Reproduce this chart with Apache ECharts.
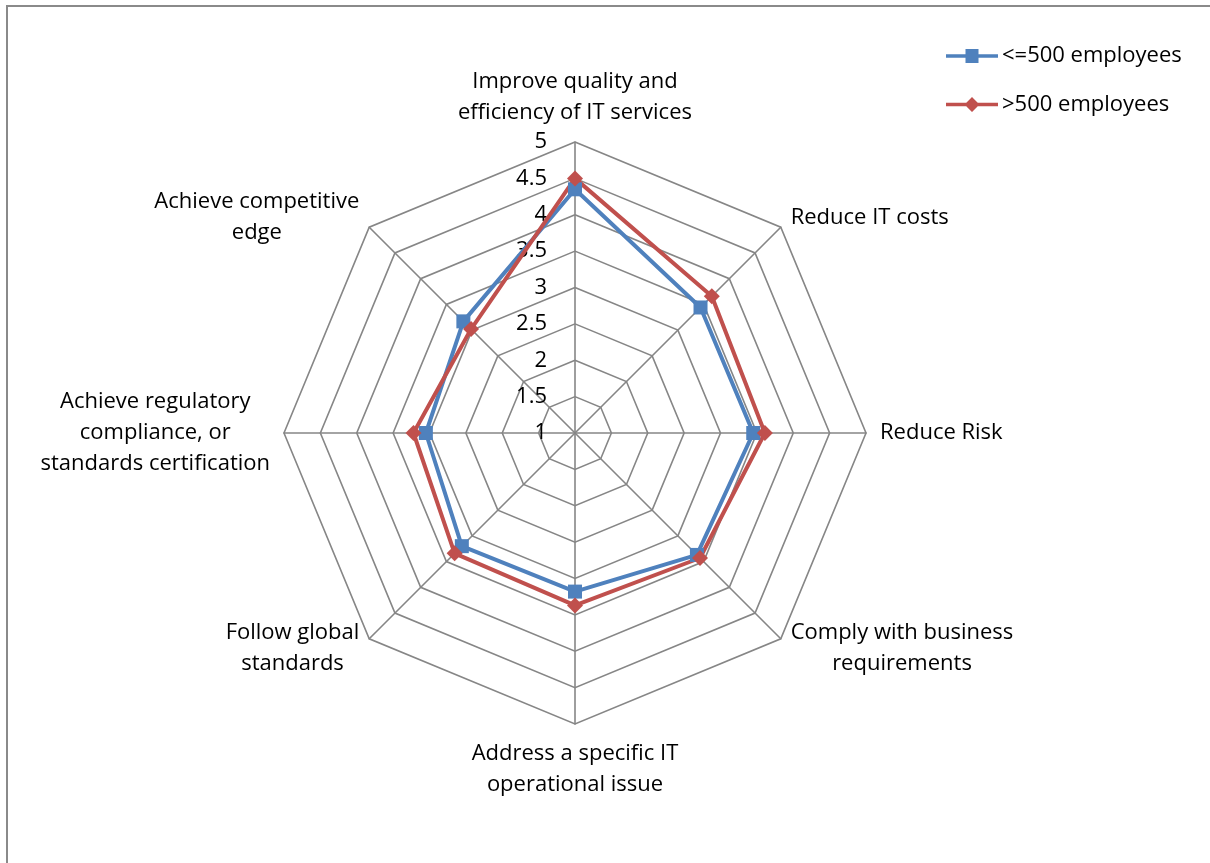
<!DOCTYPE html>
<html>
<head>
<meta charset="utf-8">
<script src="https://cdn.jsdelivr.net/npm/echarts@6/dist/echarts.min.js"></script>
<style>
  html, body { margin: 0; padding: 0; background: #fff; }
  #chart { position: absolute; left: 0; top: 0; width: 1210px; height: 863px; }
  #frame { position: absolute; left: 6px; top: 5px; width: 1300px; height: 1000px;
           border-top: 2px solid #8a8a8a; border-left: 2px solid #8a8a8a; pointer-events: none; }
</style>
</head>
<body>
<div id="chart"></div>
<div id="frame"></div>
<script>
// Spoke labels, listed clockwise from the top
const categories = [
  'Improve quality and\nefficiency of IT services',
  'Reduce IT costs',
  'Reduce Risk',
  'Comply with business\nrequirements',
  'Address a specific IT\noperational issue',
  'Follow global\nstandards',
  'Achieve regulatory\ncompliance, or\nstandards certification',
  'Achieve competitive\nedge'
];
const seriesNames = ['<=500 employees', '>500 employees'];
const smallOrgs = [4.35, 3.44, 3.45, 3.37, 3.18, 3.20, 3.05, 3.17];
const largeOrgs = [4.50, 3.66, 3.61, 3.43, 3.37, 3.34, 3.22, 3.02];
const scaleMin = 1;
const scaleMax = 5;
const scaleSteps = 8;

const FONT = '"Open Sans", Lato, sans-serif';
const FS = 22;
const BLUE = '#4F81BD';
const RED = '#C0504D';
const GRID = '#868686';

// ECharts lays radar spokes out counter-clockwise; reorder so they run clockwise
const order = categories.map((_, i) => (categories.length - i) % categories.length);
const pick = arr => order.map(k => arr[k]);

const indicator = order.map((k, i) => ({
  name: categories[k],
  min: scaleMin,
  max: scaleMax,
  axisLabel: { show: i === 0 }
}));

const chart = echarts.init(document.getElementById('chart'), null, { renderer: 'canvas' });

chart.setOption({
  animation: false,
  backgroundColor: 'transparent',
  legend: {
    orient: 'vertical',
    left: 941,
    top: 40,
    padding: 5,
    itemWidth: 52,
    itemHeight: 15,
    itemGap: 26.6,
    textStyle: { fontFamily: FONT, fontSize: FS, color: '#000', lineHeight: 22, padding: [0, 0, 0, -1] },
    data: [
      { name: seriesNames[0], icon: 'path://M0,5.75H52V9.25H0Z M19.5,0.5H32.5V14.5H19.5Z', itemStyle: { color: BLUE } },
      { name: seriesNames[1], icon: 'path://M0,5.75H52V9.25H0Z M26,0L33.5,7.5L26,15L18.5,7.5Z', itemStyle: { color: RED } }
    ]
  },
  radar: {
    center: [575, 433],
    radius: 291,
    startAngle: 90,
    splitNumber: scaleSteps,
    shape: 'polygon',
    nameGap: 14,
    indicator: indicator,
    axisName: {
      color: '#000',
      fontFamily: FONT,
      fontSize: FS,
      lineHeight: 31,
      formatter: name => name.split('\n').map(l => '{c|' + l + '}').join('\n'),
      rich: {
        c: { align: 'center', color: '#000', fontFamily: FONT, fontSize: FS, lineHeight: 31 }
      }
    },
    axisLine: { lineStyle: { color: GRID, width: 1.6 } },
    splitLine: { lineStyle: { color: GRID, width: 1.6 } },
    splitArea: { show: false },
    axisTick: { show: false },
    axisLabel: { show: false, color: '#000', fontFamily: FONT, fontSize: FS, margin: 28, padding: [4, 0, 0, 0] }
  },
  series: [{
    type: 'radar',
    data: [
      {
        name: seriesNames[0],
        value: pick(smallOrgs),
        symbol: 'rect',
        symbolSize: 14,
        lineStyle: { color: BLUE, width: 4 },
        itemStyle: { color: BLUE }
      },
      {
        name: seriesNames[1],
        value: pick(largeOrgs),
        symbol: 'diamond',
        symbolSize: 16,
        lineStyle: { color: RED, width: 4 },
        itemStyle: { color: RED }
      }
    ]
  }]
});
</script>
</body>
</html>
